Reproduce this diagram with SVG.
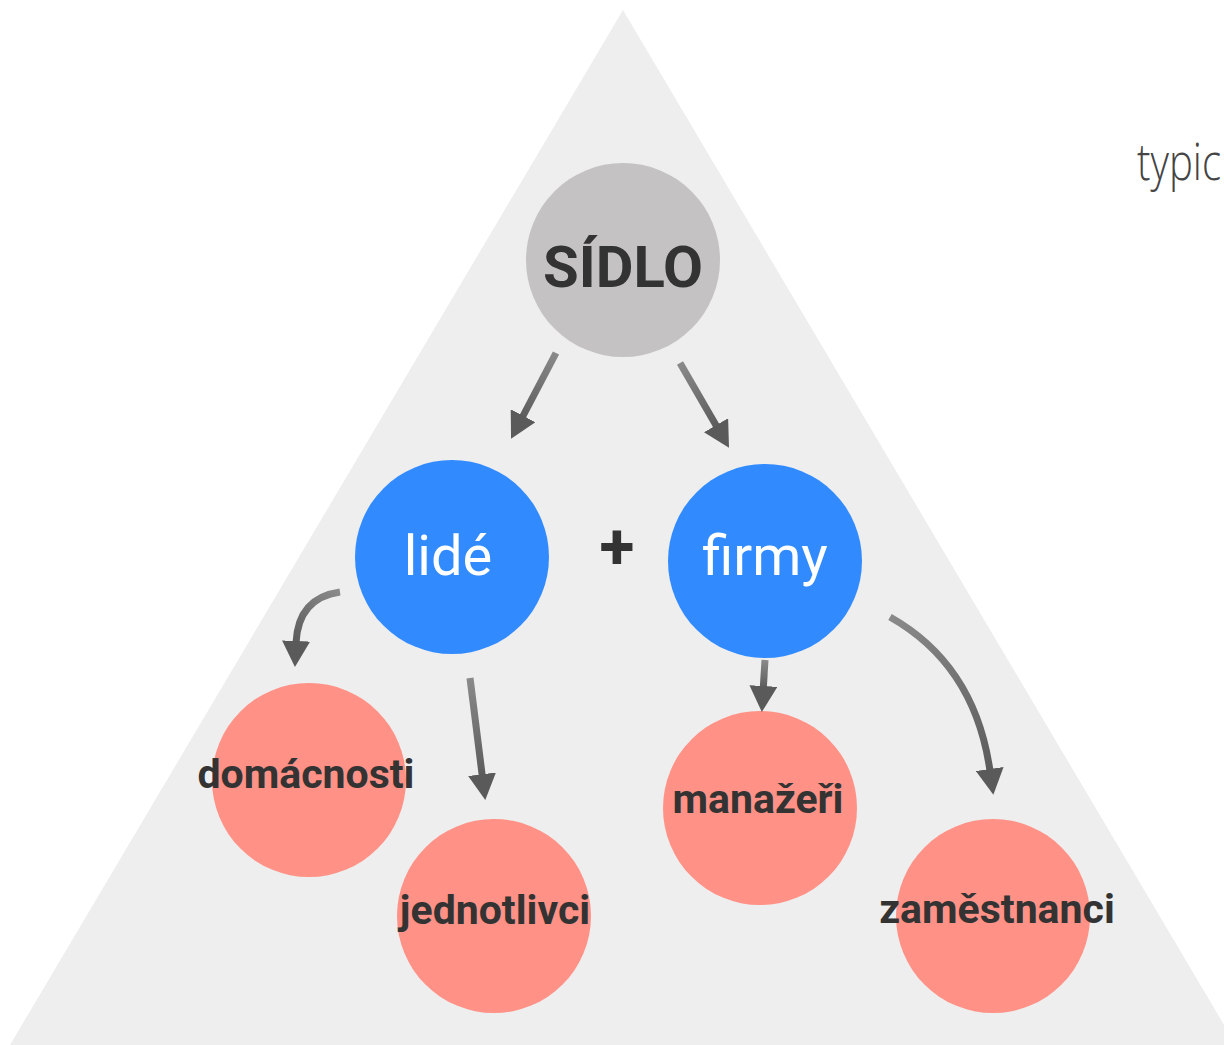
<svg xmlns="http://www.w3.org/2000/svg" width="1224" height="1045" viewBox="0 0 1224 1045">
<defs>
<style>
.bg{fill:#eeeeee}
.gray{fill:#c4c2c3}
.blue{fill:#318bff}
.pink{fill:#ff9186}
.lbl{font-family:Roboto,"Liberation Sans",sans-serif;font-weight:700;fill:#333333;text-anchor:middle}
.wl{font-family:Roboto,"Liberation Sans",sans-serif;font-weight:400;fill:#ffffff;text-anchor:middle;font-size:56px}
.conn path{fill:none;stroke-width:7;marker-end:url(#ah)}
.g0{stop-color:#8a8a8a}
.g1{stop-color:#5c5c5c}
</style>
<linearGradient id="c1" gradientUnits="userSpaceOnUse" x1="556" y1="353" x2="522" y2="418"><stop offset="0" class="g0"/><stop offset="1" class="g1"/></linearGradient>
<linearGradient id="c2" gradientUnits="userSpaceOnUse" x1="680" y1="363" x2="717" y2="427"><stop offset="0" class="g0"/><stop offset="1" class="g1"/></linearGradient>
<linearGradient id="c3" gradientUnits="userSpaceOnUse" x1="340" y1="592" x2="296" y2="643"><stop offset="0" class="g0"/><stop offset="1" class="g1"/></linearGradient>
<linearGradient id="c4" gradientUnits="userSpaceOnUse" x1="470" y1="678" x2="482" y2="776"><stop offset="0" class="g0"/><stop offset="1" class="g1"/></linearGradient>
<linearGradient id="c5" gradientUnits="userSpaceOnUse" x1="765" y1="660" x2="763" y2="688"><stop offset="0" class="g0"/><stop offset="1" class="g1"/></linearGradient>
<linearGradient id="c6" gradientUnits="userSpaceOnUse" x1="890" y1="617" x2="990" y2="771"><stop offset="0" class="g0"/><stop offset="1" class="g1"/></linearGradient>
<marker id="ah" markerUnits="userSpaceOnUse" viewBox="0 0 26 28" markerWidth="26" markerHeight="28" refX="2" refY="14" orient="auto">
<path d="M0,0 L26,14 L0,28 z" fill="#5a5a5a"/>
</marker>
</defs>
<rect width="1224" height="1045" fill="#ffffff"/>
<polygon class="bg" points="623,10 10,1045 1236,1045"/>
<text x="1137" y="180" font-family="'Open Sans','Liberation Sans',sans-serif" font-weight="300" font-size="52" fill="#444444" textLength="84" lengthAdjust="spacingAndGlyphs">typic</text>
<g id="sidlo"><circle class="gray" cx="623" cy="260" r="97"/><text class="lbl" x="623" y="287" font-size="58">SÍDLO</text></g>
<g id="lide"><circle class="blue" cx="452" cy="557" r="97"/><text class="wl" x="448" y="575">lidé</text></g>
<g id="plus"><text class="lbl" x="617" y="569" font-size="64" font-weight="500">+</text></g>
<g id="firmy"><circle class="blue" cx="765" cy="561" r="97"/><text class="wl" x="765" y="575">firmy</text></g>
<g id="domacnosti"><circle class="pink" cx="309" cy="780" r="97"/><text class="lbl" x="306" y="788" font-size="41">domácnosti</text></g>
<g id="jednotlivci"><circle class="pink" cx="494" cy="916" r="97"/><text class="lbl" x="495" y="924" font-size="41">jednotlivci</text></g>
<g id="manazeri"><circle class="pink" cx="760" cy="808" r="97"/><text class="lbl" x="758" y="813" font-size="41">manažeři</text></g>
<g id="zamestnanci"><circle class="pink" cx="993" cy="916" r="97"/><text class="lbl" x="997" y="923" font-size="41">zaměstnanci</text></g>
<g class="conn" id="connectors">
<path d="M556,353 L522.2,417.5" stroke="url(#c1)"/>
<path d="M680,363 L717,427" stroke="url(#c2)"/>
<path d="M340,592 Q298,598 296,643" stroke="url(#c3)"/>
<path d="M470,678 L482.3,776.2" stroke="url(#c4)"/>
<path d="M765,660 L763.3,688" stroke="url(#c5)"/>
<path d="M890,617 Q975,665 990,771" stroke="url(#c6)"/>
</g>
</svg>
